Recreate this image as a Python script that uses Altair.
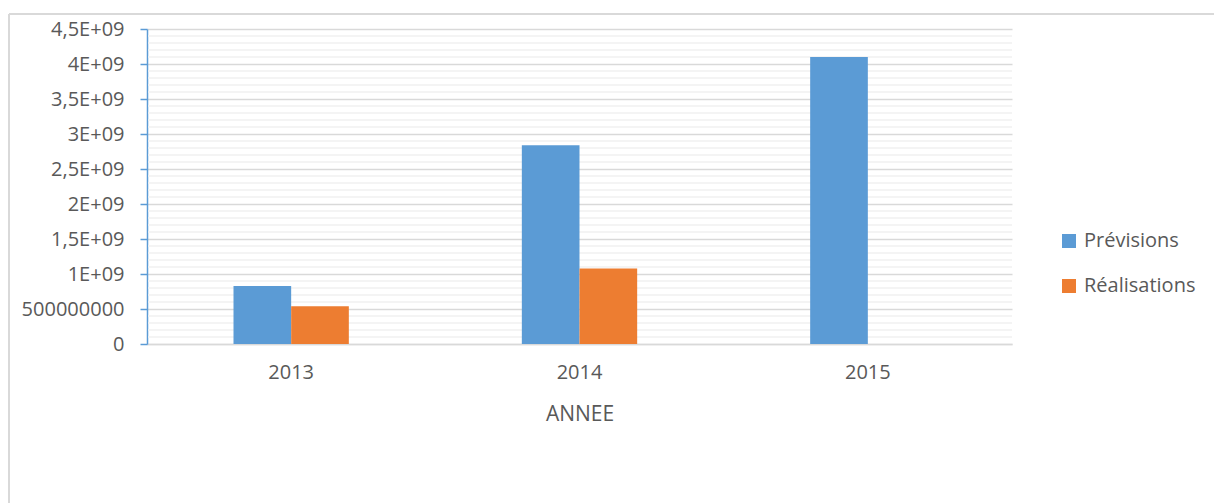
import altair as alt
import pandas as pd

years = ["2013", "2014", "2015"]
series = ["Prévisions", "Réalisations"]
previsions = [830000000, 2840000000, 4100000000]
realisations = [540000000, 1080000000, None]
colors = ["#5B9BD5", "#ED7D31"]

y_ticks = [0, 500000000, 1000000000, 1500000000, 2000000000, 2500000000,
           3000000000, 3500000000, 4000000000, 4500000000]
y_labels = ["0", "500000000", "1E+09", "1,5E+09", "2E+09", "2,5E+09",
            "3E+09", "3,5E+09", "4E+09", "4,5E+09"]
minor_step = 100000000

rows = []
for yr, p, r in zip(years, previsions, realisations):
    rows.append({"year": yr, "series": series[0], "value": p})
    if r is not None:
        rows.append({"year": yr, "series": series[1], "value": r})
df = pd.DataFrame(rows)

minor = pd.DataFrame({"value": [i * minor_step for i in range(1, 45) if (i * minor_step) % 500000000 != 0]})

label_expr = ""
for v, l in zip(y_ticks, y_labels):
    label_expr += f"datum.value == {v} ? '{l}' : "
label_expr += "''"

FONT = "Open Sans"
TXT = "#595959"

yscale = alt.Scale(domain=[0, 4500000000], nice=False)
y_axis = alt.Axis(title=None, values=y_ticks, labelExpr=label_expr,
                  tickSize=7, tickColor="#5B9BD5", tickWidth=1.5,
                  domainColor="#5B9BD5", domainWidth=1.5,
                  labelPadding=16, labelFontSize=20, labelColor=TXT, labelFont=FONT,
                  grid=True, gridColor="#D9D9D9", gridWidth=1.5)

minor_rules = alt.Chart(minor).mark_rule(color="#F0F0F0", strokeWidth=1.5).encode(
    y=alt.Y("value:Q", scale=yscale, axis=y_axis),
    x=alt.value(1), x2=alt.value(865),
)

bars = alt.Chart(df).mark_bar().encode(
    x=alt.X("year:N", scale=alt.Scale(domain=years, paddingInner=0.6, paddingOuter=0.3),
            axis=alt.Axis(title="ANNEE", labelAngle=0, ticks=False, labelPadding=18,
                          labelFontSize=20, titleFontSize=21, titleFontWeight="normal",
                          titlePadding=21, domainColor="#D9D9D9", domainWidth=1.5,
                          labelColor=TXT, titleColor=TXT, labelFont=FONT, titleFont=FONT)),
    xOffset=alt.XOffset("series:N", scale=alt.Scale(domain=series)),
    y=alt.Y("value:Q", scale=yscale, axis=y_axis),
    color=alt.Color("series:N", scale=alt.Scale(domain=series, range=colors),
                    legend=alt.Legend(title=None, orient="none", legendX=912, legendY=202,
                                      symbolType="square", symbolSize=196, symbolStrokeWidth=0,
                                      labelFontSize=20, labelColor=TXT, labelFont=FONT,
                                      rowPadding=25, labelOffset=5)),
)

one = alt.Data(values=[{}])
frame_top = alt.Chart(one).mark_rule(color="#D9D9D9", strokeWidth=2).encode(
    x=alt.value(-138), x2=alt.value(1067), y=alt.value(-15)
)
frame_left = alt.Chart(one).mark_rule(color="#D9D9D9", strokeWidth=2).encode(
    x=alt.value(-138), y=alt.value(-15), y2=alt.value(474)
)

chart = alt.layer(minor_rules, bars, frame_top, frame_left).properties(
    width=865, height=315,
    autosize=alt.AutoSizeParams(type="none"),
    padding={"left": 147, "top": 29, "right": 202, "bottom": 159},
).configure(background="white", view=alt.ViewConfig(stroke=None))

chart.save("out.html", embed_options={"renderer": "svg", "actions": False})
